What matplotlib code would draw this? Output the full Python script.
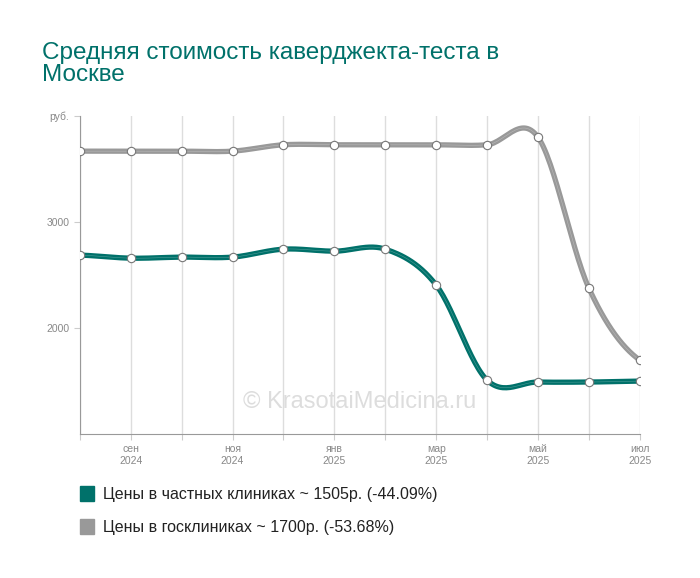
import numpy as np
import matplotlib
matplotlib.use("Agg")
import matplotlib.pyplot as plt
from matplotlib.patches import Rectangle

plt.rcParams["font.family"] = "Liberation Sans"

months = ["авг 2024", "сен\n2024", "окт 2024", "ноя\n2024", "дек 2024", "янв\n2025",
          "фев 2025", "мар\n2025", "апр 2025", "май\n2025", "июн 2025", "июл\n2025"]
private_prices = [2689, 2660, 2670, 2670, 2745, 2726, 2745, 2406, 1509, 1491, 1491, 1500]
public_prices = [3670, 3670, 3670, 3670, 3730, 3730, 3730, 3730, 3730, 3802, 2377, 1698]

GREEN = "#00716a"
GRAY = "#999999"


def catmull(x, y, n=30):
    x = np.asarray(x, float)
    y = np.asarray(y, float)
    px = np.concatenate([[2 * x[0] - x[1]], x, [2 * x[-1] - x[-2]]])
    py = np.concatenate([[y[0]], y, [y[-1]]])
    xs, ys = [], []
    for i in range(1, len(px) - 2):
        t = np.linspace(0, 1, n)
        for p, out in ((px, xs), (py, ys)):
            p0, p1, p2, p3 = p[i - 1], p[i], p[i + 1], p[i + 2]
            out.append(0.5 * (2 * p1 + (-p0 + p2) * t + (2 * p0 - 5 * p1 + 4 * p2 - p3) * t ** 2
                              + (-p0 + 3 * p1 - 3 * p2 + p3) * t ** 3))
    return np.concatenate(xs), np.concatenate(ys)


fig = plt.figure(figsize=(7, 5.78), dpi=100)
ax = fig.add_axes([0.114, 0.249, 0.8, 0.55])
x = np.arange(len(months))

for vals, col in ((public_prices, GRAY), (private_prices, GREEN)):
    sx, sy = catmull(x, vals)
    ax.plot(sx, sy, color=col, lw=3.8, solid_capstyle="round", zorder=3)
    ax.plot(sx, sy, color="white", lw=0.4, alpha=0.3, zorder=4)
    ax.plot(x, vals, "o", ms=6, mfc="white", mec="#777777", mew=0.8, zorder=5)

ax.set_xlim(0, 11)
ax.set_ylim(1000, 4000)
ax.set_xticks(x)
ax.set_xticklabels([m if "\n" in m else "" for m in months], fontsize=7.5, color="#888888")
ax.set_yticks([2000, 3000, 4000])
ax.set_yticklabels(["2000", "3000", "руб."], fontsize=7.5, color="#888888")
ax.tick_params(length=4, color="#cccccc")
ax.grid(axis="x", color="#dddddd", lw=1)
for s in ["top", "right"]:
    ax.spines[s].set_visible(False)
for s in ["left", "bottom"]:
    ax.spines[s].set_color("#999999")

ax.text(5.5, 1300, "© KrasotaiMedicina.ru", fontsize=17, color="#dddddd",
        ha="center", va="center", zorder=2)

fig.text(0.06, 0.928, "Средняя стоимость каверджекта-теста в\nМоскве", fontsize=17.5,
         color=GREEN, va="top", linespacing=1.0)

for i, (lbl, col) in enumerate((("Цены в частных клиниках ~ 1505р. (-44.09%)", GREEN),
                                ("Цены в госклиниках ~ 1700р. (-53.68%)", GRAY))):
    yy = 0.145 - i * 0.057
    fig.patches.append(Rectangle((0.114, yy - 0.012), 0.02, 0.026, color=col,
                                 transform=fig.transFigure, figure=fig))
    fig.text(0.147, yy, lbl, fontsize=11.5, va="center", color="#222222")

fig.savefig("out.png", dpi=100)
